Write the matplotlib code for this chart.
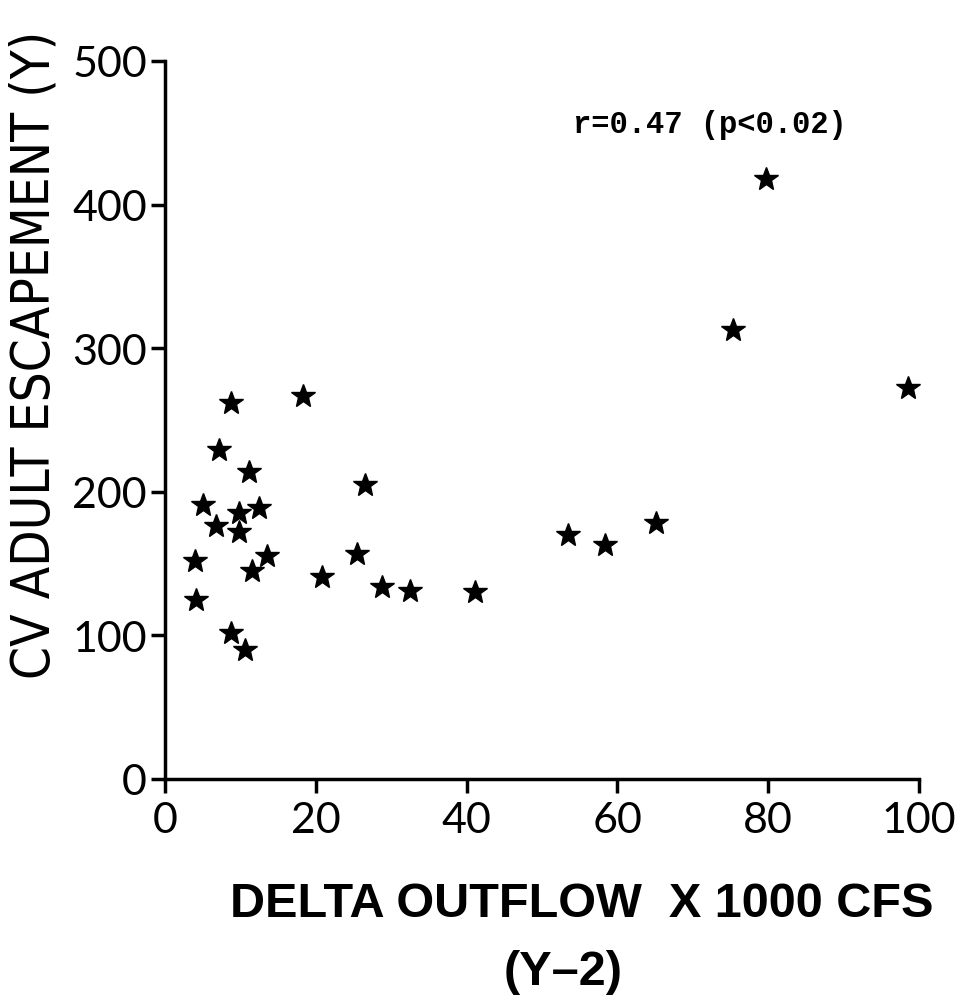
import matplotlib
matplotlib.use("Agg")
import matplotlib.pyplot as plt

# Data (x: Delta outflow x1000 cfs (Y-2), y: CV adult escapement)
delta_outflow = [8.7, 18.3, 7.2, 11.2, 26.5, 5.1, 9.8, 12.5, 6.7, 9.8,
                 4.0, 13.5, 11.5, 25.4, 20.8, 28.8, 32.5, 41.1, 4.1, 8.8,
                 10.6, 53.4, 58.3, 65.1, 79.7, 75.3, 98.5]
escapement = [262, 267, 229, 214, 205, 191, 185, 189, 176, 172,
              152, 155, 145, 157, 141, 134, 131, 130, 125, 102,
              90, 170, 163, 178, 418, 313, 272]

x_ticks = [0, 20, 40, 60, 80, 100]
y_ticks = [0, 100, 200, 300, 400, 500]

fig = plt.figure(figsize=(9.64, 10.04), dpi=100)
ax = fig.add_axes([165/964, 1 - 780/1004, (919-165)/964, (780-62)/1004])

ax.plot(delta_outflow, escapement, linestyle='none', marker='*',
        markersize=18, color='black', clip_on=False)

ax.set_xlim(0, 100)
ax.set_ylim(0, 500)
ax.set_xticks(x_ticks)
ax.set_yticks(y_ticks)
ax.set_xticklabels([str(v) for v in x_ticks])
ax.set_yticklabels([str(v) for v in y_ticks])

for s in ['top', 'right']:
    ax.spines[s].set_visible(False)
for s in ['left', 'bottom']:
    ax.spines[s].set_linewidth(2.5)
ax.spines['left'].set_bounds(0, 500)
ax.spines['bottom'].set_bounds(0, 100)

ax.tick_params(axis='both', direction='out', length=10, width=2.5,
               labelsize=31, colors='black')
ax.tick_params(axis='x', pad=6)
ax.tick_params(axis='y', pad=3)
for lab in ax.get_xticklabels() + ax.get_yticklabels():
    lab.set_family(['Lato', 'DejaVu Sans'])

fig.text(35/964, 1 - 355/1004, 'CV ADULT ESCAPEMENT (Y)', rotation=90,
         ha='center', va='center', fontsize=38, stretch='condensed',
         family=['DejaVu Sans'])

fig.text(582/964, 1 - 905/1004, 'DELTA OUTFLOW  X 1000 CFS',
         ha='center', va='center', fontsize=35, fontweight='bold',
         family=['Liberation Sans', 'DejaVu Sans'])
fig.text(563/964, 1 - 973/1004, '(Y\u20132)',
         ha='center', va='center', fontsize=35, fontweight='bold',
         family=['Liberation Sans', 'DejaVu Sans'])

fig.text(710/964, 1 - 125/1004, 'r=0.47 (p<0.02)',
         ha='center', va='center', fontsize=22, fontweight='bold',
         family=['Liberation Mono', 'DejaVu Sans Mono'])

fig.savefig('out.png', dpi=100, facecolor='white')
